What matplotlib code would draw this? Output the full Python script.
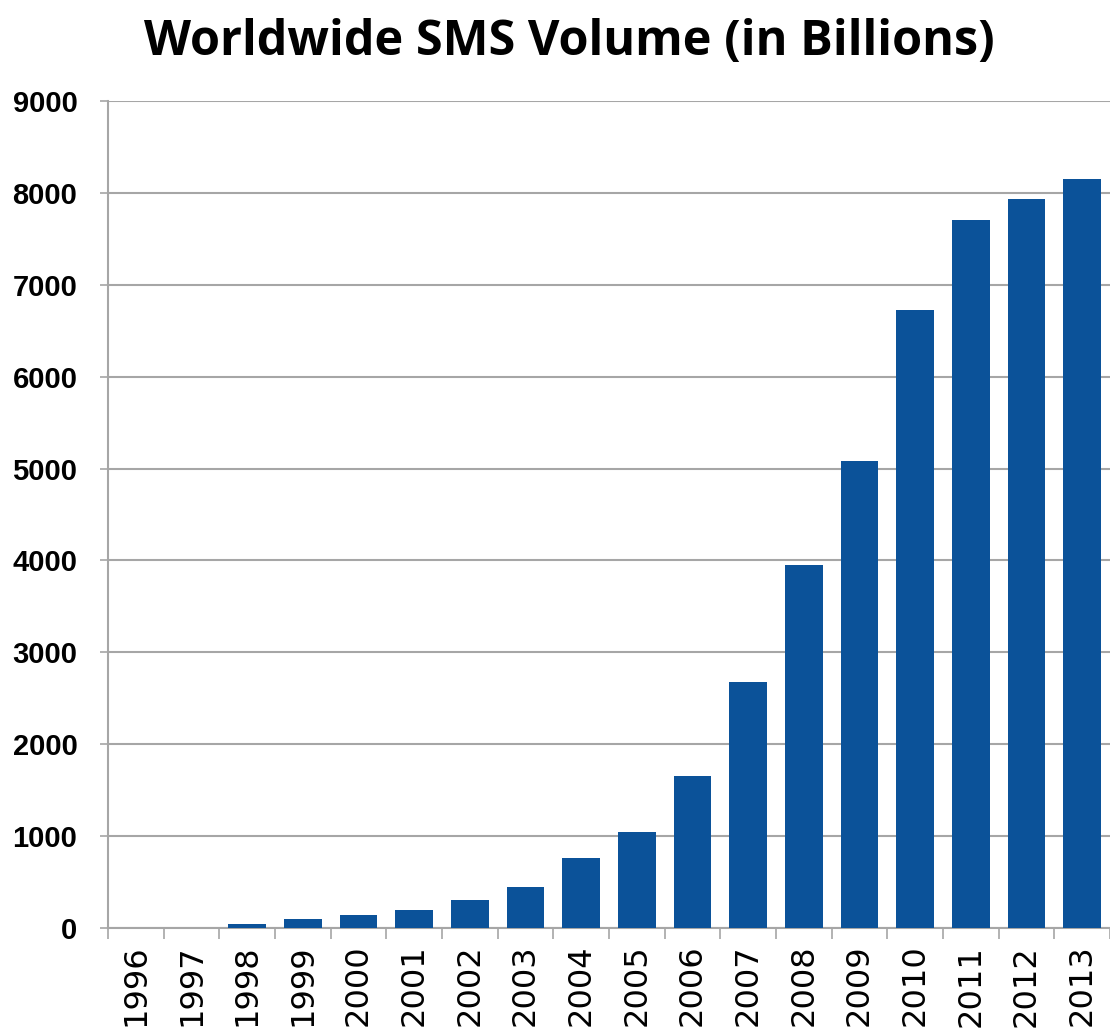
import matplotlib
matplotlib.use("Agg")
import matplotlib.pyplot as plt
import numpy as np

years = ["1996", "1997", "1998", "1999", "2000", "2001", "2002", "2003", "2004",
         "2005", "2006", "2007", "2008", "2009", "2010", "2011", "2012", "2013"]
volumes = [0, 0, 40, 100, 140, 200, 300, 450, 760,
           1040, 1650, 2680, 3950, 5080, 6730, 7700, 7930, 8150]
yticks = [0, 1000, 2000, 3000, 4000, 5000, 6000, 7000, 8000, 9000]
title = "Worldwide SMS Volume (in Billions)"

bar_color = "#0b5299"
grid_color = "#a6a6a6"

fig = plt.figure(figsize=(11.1, 10.3), dpi=100)
ax = fig.add_axes([108 / 1110, (1030 - 928) / 1030, 1 - 108 / 1110, (928 - 101) / 1030])

x = np.arange(len(years))
ax.bar(x, volumes, width=0.68, color=bar_color, zorder=3)

ax.set_ylim(0, 9000)
ax.set_xlim(-0.5, -0.5 + (1110 - 108) / 56.15)

ax.set_yticks(yticks)
ax.set_yticklabels([str(v) for v in yticks], fontfamily="Liberation Sans",
                   fontweight="bold", fontsize=21)
ax.tick_params(axis="y", length=6, width=1.2, color=grid_color, pad=16)

ax.set_xticks(x)
ax.set_xticklabels(years, rotation=90, fontfamily="DejaVu Sans", fontsize=23,
                   va="top")
ax.tick_params(axis="x", which="major", length=0, pad=12)
ax.set_xticks(np.arange(-0.5, len(years), 1), minor=True)
ax.tick_params(axis="x", which="minor", length=8, width=1.2, color=grid_color)

ax.yaxis.grid(True, color=grid_color, linewidth=1.5, zorder=0)
ax.set_axisbelow(True)

for s in ["top", "right"]:
    ax.spines[s].set_visible(False)
for s in ["left", "bottom"]:
    ax.spines[s].set_color(grid_color)
    ax.spines[s].set_linewidth(1.5)

fig.text(569 / 1110, 1 - 55 / 1030, title, ha="center", va="baseline",
         fontfamily="Open Sans", fontweight="bold", fontsize=35)

fig.savefig("out.png", dpi=100)
